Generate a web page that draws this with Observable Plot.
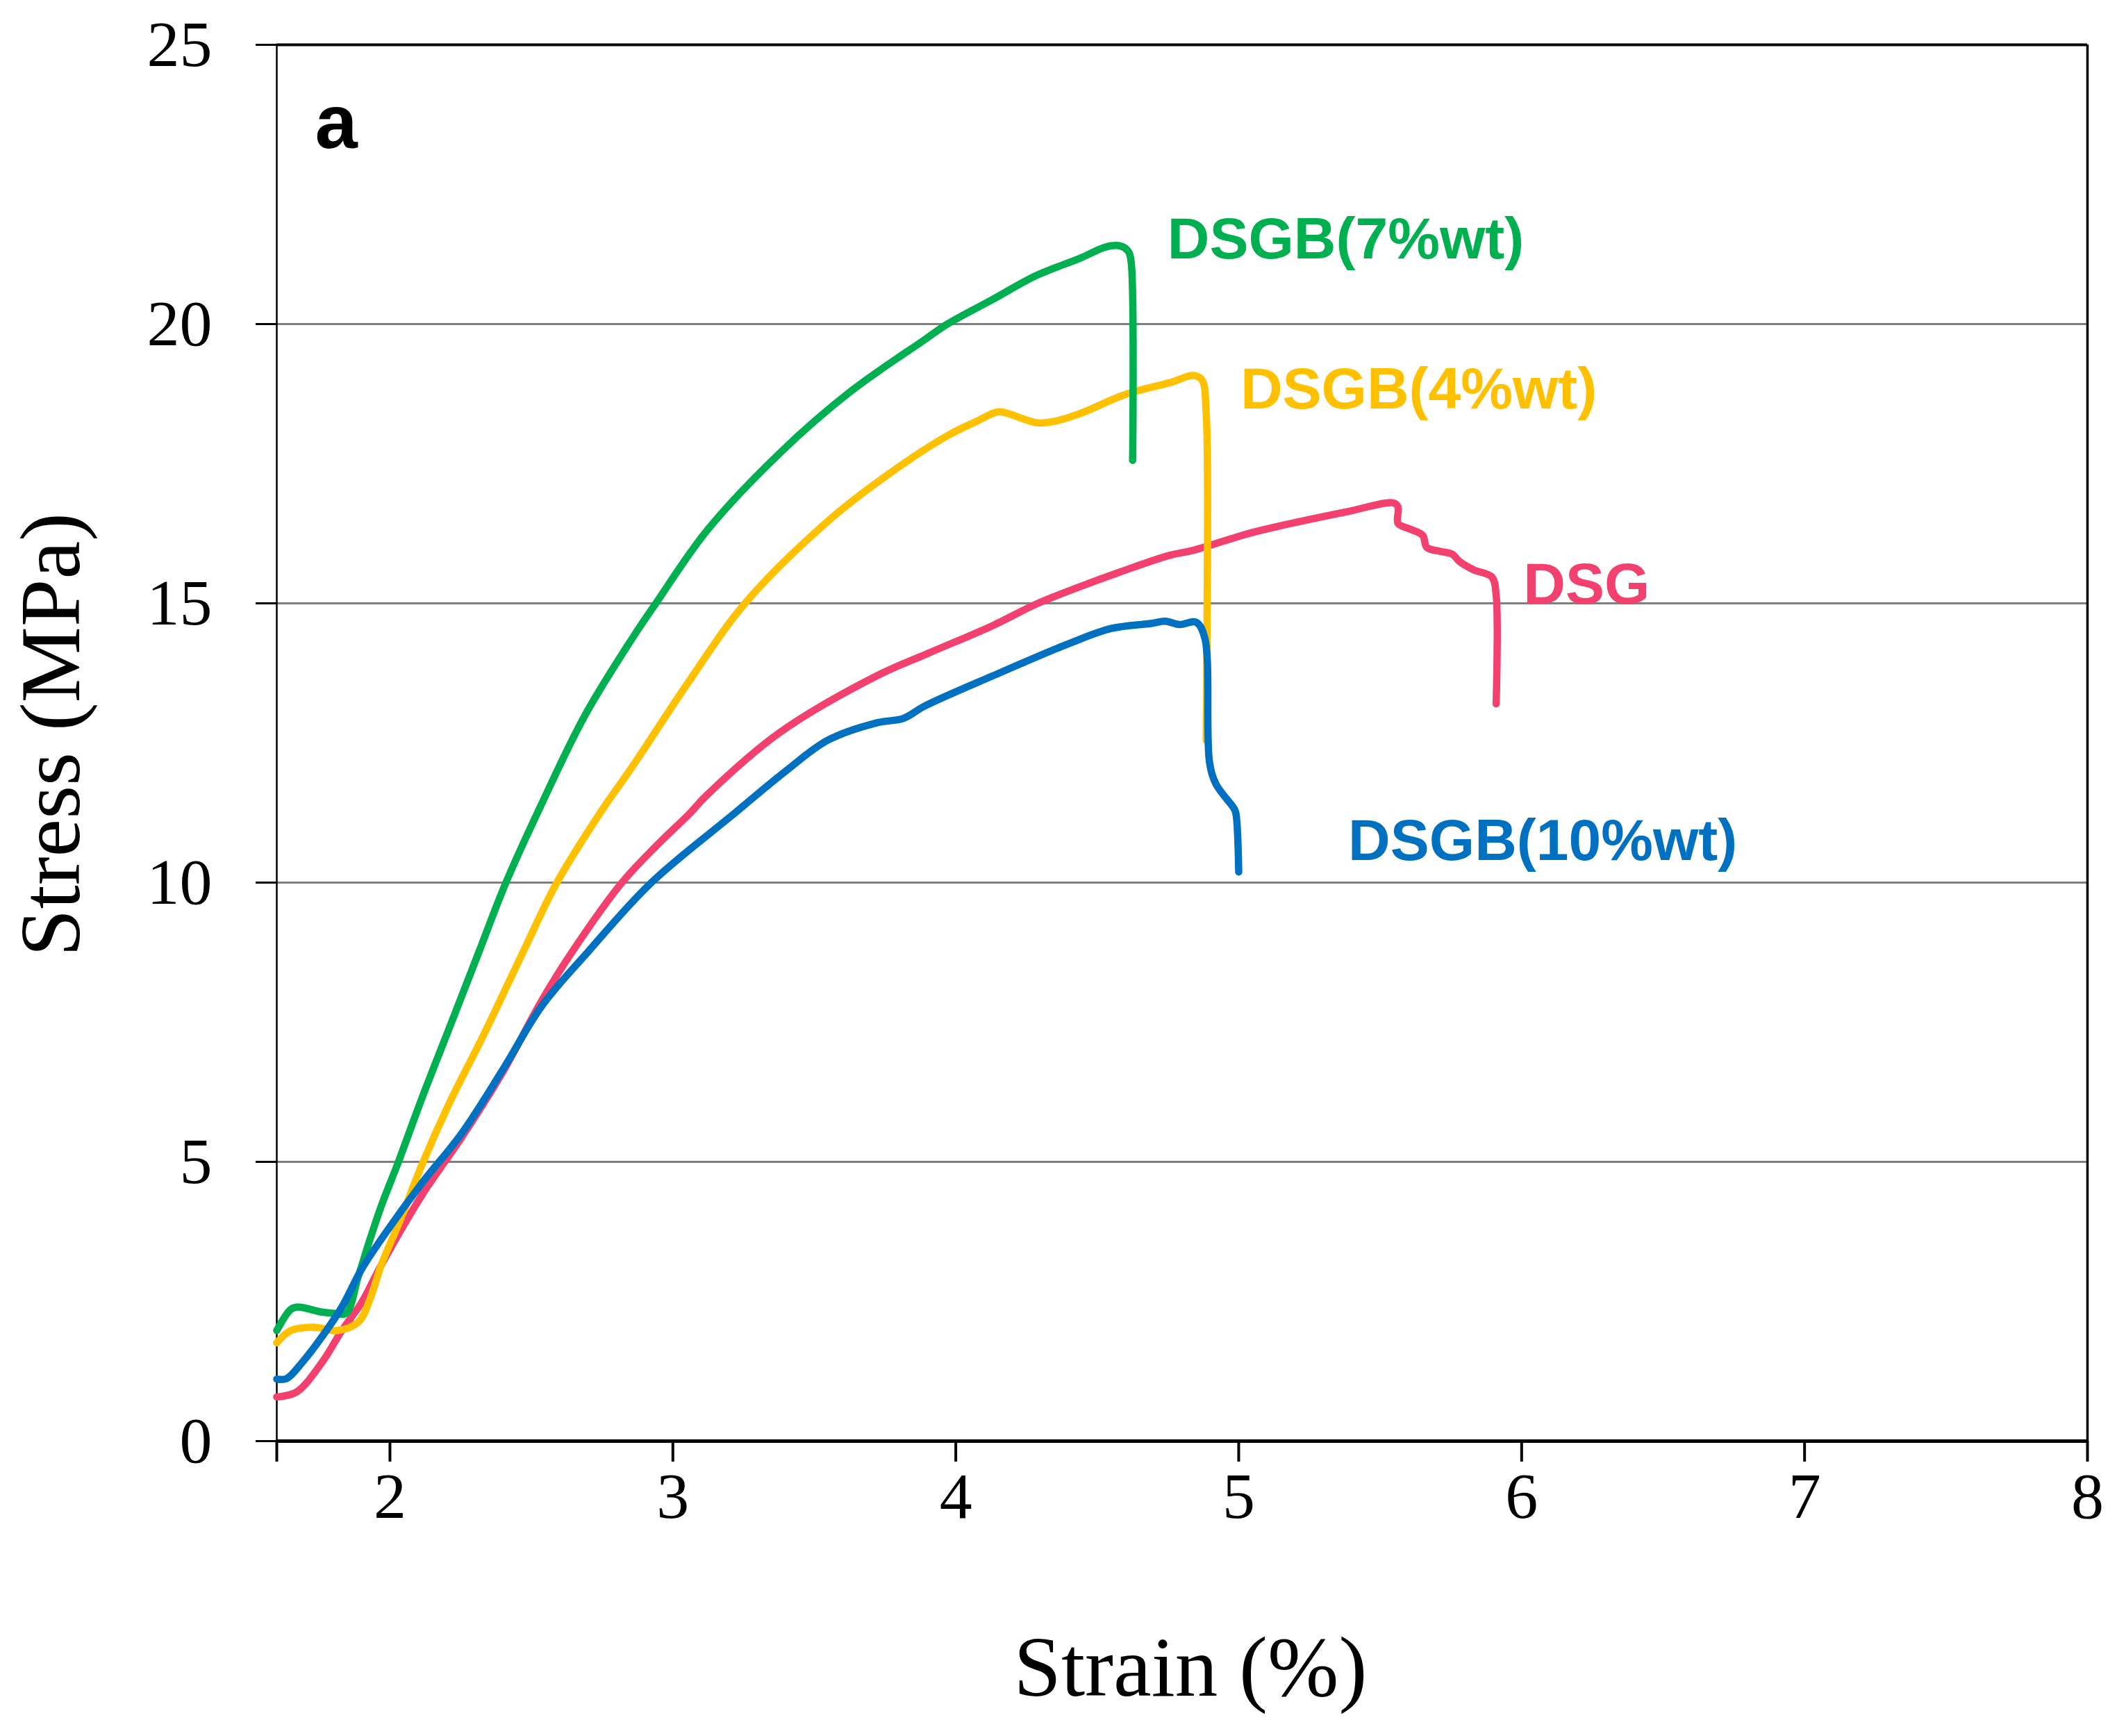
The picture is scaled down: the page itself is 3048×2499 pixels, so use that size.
<!DOCTYPE html>
<html>
<head>
<meta charset="utf-8">
<script src="https://cdn.jsdelivr.net/npm/d3@7"></script>
<script src="https://cdn.jsdelivr.net/npm/@observablehq/plot@0.6"></script>
<style>
  html, body { margin: 0; padding: 0; background: #ffffff; }
  #chart svg { display: block; }
</style>
</head>
<body>
<div id="chart"></div>
<script>
// Tensile stress–strain curves of the DSG film and its DSGB blends.
const seriesNames = ["DSG", "DSGB(4%wt)", "DSGB(7%wt)", "DSGB(10%wt)"];
const seriesColors = ["#f2416f", "#ffc000", "#00b050", "#0070c0"];

// DSG
const dsgStrain = [1.6, 1.67, 1.76, 1.83, 1.90, 1.97, 2.11, 2.255, 2.40, 2.538, 2.644, 2.82, 2.94, 3.06, 3.117, 3.376, 3.72, 3.9, 4.13, 4.29, 4.44, 4.58, 4.756, 4.84, 5.05, 5.383, 5.546, 5.563, 5.563, 5.6, 5.65, 5.665, 5.713, 5.755, 5.78, 5.83, 5.895, 5.91, 5.91];
const dsgStress = [0.79, 0.88, 1.41, 1.98, 2.48, 3.16, 4.38, 5.45, 6.62, 7.9, 8.76, 10.0, 10.65, 11.24, 11.55, 12.68, 13.7, 14.1, 14.6, 15.0, 15.3, 15.56, 15.86, 15.95, 16.27, 16.64, 16.8, 16.73, 16.43, 16.34, 16.22, 16.0, 15.93, 15.88, 15.75, 15.6, 15.47, 15.14, 13.2];

// DSGB(4%wt)
const b4Strain = [1.6, 1.65, 1.73, 1.816, 1.89, 1.93, 1.97, 2.04, 2.11, 2.21, 2.33, 2.47, 2.59, 2.742, 2.86, 3.05, 3.255, 3.548, 3.77, 3.97, 4.07, 4.15, 4.19, 4.24, 4.29, 4.35, 4.44, 4.6, 4.756, 4.84, 4.87, 4.885, 4.888, 4.885];
const b4Stress = [1.76, 1.98, 2.04, 1.98, 2.14, 2.55, 3.16, 4.0, 4.91, 6.05, 7.26, 8.75, 10.0, 11.24, 12.1, 13.55, 15.0, 16.47, 17.34, 18.0, 18.25, 18.43, 18.39, 18.3, 18.23, 18.26, 18.4, 18.74, 18.95, 19.08, 19.0, 18.4, 14.46, 12.55];

// DSGB(7%wt)
const b7Strain = [1.6, 1.65, 1.674, 1.76, 1.80, 1.845, 1.887, 1.93, 1.97, 2.03, 2.11, 2.21, 2.31, 2.41, 2.54, 2.69, 2.86, 2.94, 3.12, 3.38, 3.63, 3.89, 3.97, 4.13, 4.285, 4.44, 4.53, 4.58, 4.61, 4.62, 4.625];
const b7Stress = [1.98, 2.36, 2.40, 2.31, 2.29, 2.29, 2.93, 3.62, 4.22, 5.0, 6.1, 7.4, 8.7, 10.0, 11.45, 13.0, 14.4, 15.0, 16.3, 17.7, 18.8, 19.72, 20.0, 20.44, 20.87, 21.18, 21.38, 21.4, 21.3, 21.1, 17.56];

// DSGB(10%wt)
const b10Strain = [1.6, 1.635, 1.69, 1.76, 1.83, 1.90, 1.97, 2.11, 2.255, 2.40, 2.538, 2.70, 2.924, 3.218, 3.40, 3.548, 3.72, 3.815, 3.89, 4.13, 4.41, 4.55, 4.69, 4.74, 4.79, 4.85, 4.88, 4.897, 4.92, 4.983, 4.99, 5.0];
const b10Stress = [1.11, 1.12, 1.41, 1.87, 2.40, 3.08, 3.62, 4.6, 5.52, 6.66, 7.8, 8.76, 10.0, 11.24, 12.0, 12.55, 12.86, 12.94, 13.16, 13.7, 14.3, 14.55, 14.64, 14.68, 14.62, 14.66, 14.38, 12.15, 11.76, 11.33, 11.24, 10.19];

// Axis ticks
const xTicks = [1.6, 2, 3, 4, 5, 6, 7, 8];
const yTicks = [0, 5, 10, 15, 20, 25];
const yGrid = [5, 10, 15, 20];

// Curve labels, anchored in data units at the text baseline start
const labelText = ["DSGB(7%wt)", "DSGB(4%wt)", "DSG", "DSGB(10%wt)"];
const labelStrain = [4.748, 5.006, 6.006, 5.387];
const labelStress = [21.18, 18.49, 15.0, 10.4];

const strainBySeries = [dsgStrain, b4Strain, b7Strain, b10Strain];
const stressBySeries = [dsgStress, b4Stress, b7Stress, b10Stress];
const rows = seriesNames.flatMap((name, k) =>
  strainBySeries[k].map((s, i) => ({series: name, strain: s, stress: stressBySeries[k][i]}))
);
const labelRows = labelText.map((t, i) => ({text: t, strain: labelStrain[i], stress: labelStress[i], series: t}));

const serif = "'Liberation Serif', 'Times New Roman', serif";
const sans = "'Liberation Sans', Arial, sans-serif";

const chart = Plot.plot({
  width: 3048,
  height: 2499,
  marginLeft: 398,
  marginRight: 43,
  marginTop: 64,
  marginBottom: 425,
  style: {background: "#ffffff", fontFamily: serif, fontSize: "94px", color: "#000"},
  x: {domain: [1.6, 8], nice: false},
  y: {domain: [0, 25], nice: false},
  color: {domain: seriesNames, range: seriesColors},
  marks: [
    Plot.ruleY(yGrid, {stroke: "#7f7f7f", strokeWidth: 3}),
    Plot.axisY({
      ticks: yTicks, tickSize: 30, tickPadding: 63, strokeWidth: 3,
      fontSize: 94, fontFamily: serif, label: null, tickFormat: d => String(d)
    }),
    Plot.axisX({
      ticks: xTicks, tickSize: 30, tickPadding: 14, strokeWidth: 4,
      fontSize: 94, fontFamily: serif, label: null,
      tickFormat: d => (d === 1.6 ? "" : String(d))
    }),
    Plot.ruleY([25], {stroke: "#000", strokeWidth: 4}),
    Plot.ruleX([8], {stroke: "#000", strokeWidth: 3.5}),
    Plot.ruleX([1.6], {stroke: "#000", strokeWidth: 2.5}),
    Plot.ruleY([0], {stroke: "#000", strokeWidth: 5}),
    Plot.line(rows, {
      x: "strain", y: "stress", z: "series", stroke: "series",
      curve: "catmull-rom",
      strokeWidth: 10.5, strokeLinejoin: "round", strokeLinecap: "round"
    }),
    Plot.text(labelRows, {
      x: "strain", y: "stress", text: "text", fill: "series",
      textAnchor: "start", lineAnchor: "bottom",
      fontSize: 84, fontWeight: "bold", fontFamily: sans
    }),
    Plot.text(["a"], {
      x: [1.735], y: [23.15], text: d => d,
      textAnchor: "start", lineAnchor: "bottom",
      fontSize: 110, fontWeight: "bold", fontFamily: sans, fill: "#000"
    }),
    Plot.text(["Strain (%)"], {
      frameAnchor: "bottom", dx: 12, dy: 366, lineAnchor: "bottom",
      fontSize: 123, fontFamily: serif, fill: "#000"
    }),
    Plot.text(["Stress (MPa)"], {
      frameAnchor: "left", dx: -285, dy: -12, rotate: -90, lineAnchor: "bottom",
      textAnchor: "middle", fontSize: 123, fontFamily: serif, fill: "#000"
    })
  ]
});

document.getElementById("chart").appendChild(chart);
</script>
</body>
</html>
